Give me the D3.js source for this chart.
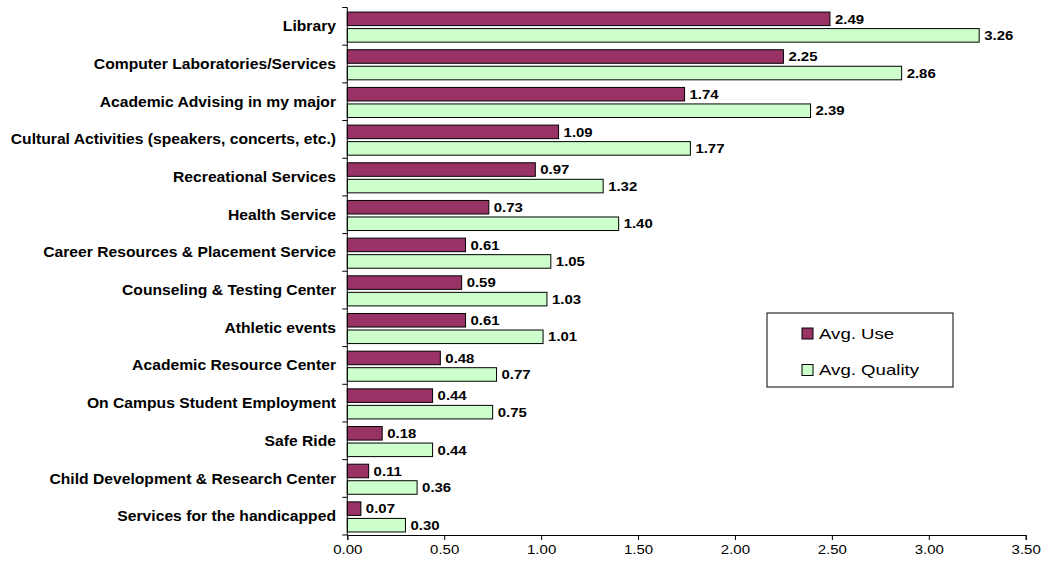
<!DOCTYPE html>
<html>
<head>
<meta charset="utf-8">
<script src="https://cdn.jsdelivr.net/npm/d3@7"></script>
<style>
  body { margin: 0; background: #fff; }
  text { font-family: Arial, "Liberation Sans", sans-serif; fill: #000; }
</style>
</head>
<body>
<div id="viz"></div>
<script>
// data, top to bottom
var categories = [
  "Library",
  "Computer Laboratories/Services",
  "Academic Advising in my major",
  "Cultural Activities (speakers, concerts, etc.)",
  "Recreational Services",
  "Health Service",
  "Career Resources & Placement Service",
  "Counseling & Testing Center",
  "Athletic events",
  "Academic Resource Center",
  "On Campus Student Employment",
  "Safe Ride",
  "Child Development & Research Center",
  "Services for the handicapped"
];
var avgUse =     [2.49, 2.25, 1.74, 1.09, 0.97, 0.73, 0.61, 0.59, 0.61, 0.48, 0.44, 0.18, 0.11, 0.07];
var avgQuality = [3.26, 2.86, 2.39, 1.77, 1.32, 1.40, 1.05, 1.03, 1.01, 0.77, 0.75, 0.44, 0.36, 0.30];
var seriesNames = ["Avg. Use", "Avg. Quality"];
var seriesColors = ["#993366", "#ccffcc"];
var tickValues = [0, 0.5, 1, 1.5, 2, 2.5, 3, 3.5];

var width = 1047, height = 562;
var plotLeft = 347.3, plotRight = 1025.7, plotTop = 7.5, plotBottom = 535;

var svg = d3.select("#viz").append("svg")
    .attr("width", width)
    .attr("height", height);

var x = d3.scaleLinear().domain([0, 3.5]).range([plotLeft, plotRight]);
var y = d3.scaleBand().domain(categories).range([plotTop, plotBottom]).padding(0);
var ySub = d3.scaleBand().domain(seriesNames).range([0, y.bandwidth()])
    .paddingInner(0.18).paddingOuter(0.23).align(0.6);

// rows: one per category, two bars each
var rows = categories.map(function(c, i){
  return {cat: c, vals: [{s: seriesNames[0], v: avgUse[i]}, {s: seriesNames[1], v: avgQuality[i]}]};
});

var g = svg.selectAll(".row").data(rows).enter().append("g")
    .attr("class", "row")
    .attr("transform", function(d){ return "translate(0," + y(d.cat) + ")"; });

g.selectAll("rect").data(function(d){ return d.vals; }).enter().append("rect")
    .attr("x", x(0))
    .attr("y", function(d){ return ySub(d.s); })
    .attr("width", function(d){ return x(d.v) - x(0); })
    .attr("height", ySub.bandwidth())
    .attr("fill", function(d, i){ return seriesColors[i]; })
    .attr("stroke", "#000")
    .attr("stroke-width", 1);

// value labels
g.selectAll(".val").data(function(d){ return d.vals; }).enter().append("text")
    .attr("class", "val")
    .attr("transform", function(d){
      return "translate(" + (x(d.v) + 5) + "," + (ySub(d.s) + ySub.bandwidth() / 2) + ") scale(1.15,1)";
    })
    .attr("dy", "0.36em")
    .style("font-size", "13px")
    .style("font-weight", "bold")
    .text(function(d){ return d3.format(".2f")(d.v); });

// category labels
g.append("text")
    .attr("transform", "translate(336," + (y.bandwidth() / 2) + ") scale(1.12,1)")
    .attr("text-anchor", "end")
    .attr("dy", "0.36em")
    .style("font-size", "14px")
    .style("font-weight", "bold")
    .text(function(d){ return d.cat; });

// y axis line + ticks at band edges
svg.append("line")
    .attr("x1", plotLeft).attr("x2", plotLeft)
    .attr("y1", plotTop).attr("y2", plotBottom)
    .attr("stroke", "#000");
var edges = categories.map(function(c){ return y(c); }).concat([plotBottom]);
svg.selectAll(".ytick").data(edges).enter().append("line")
    .attr("x1", plotLeft - 5).attr("x2", plotLeft)
    .attr("y1", function(d){ return d; }).attr("y2", function(d){ return d; })
    .attr("stroke", "#000");

// x axis
var xAxis = svg.append("g")
    .attr("transform", "translate(0," + plotBottom + ")")
    .call(d3.axisBottom(x).tickValues(tickValues).tickSizeOuter(0).tickSize(5).tickFormat(d3.format(".2f")));
xAxis.select(".domain").attr("stroke", "#000");
xAxis.selectAll(".tick line").attr("stroke", "#000");
xAxis.selectAll(".tick text").remove();
xAxis.selectAll(".tick").append("text")
    .attr("transform", "translate(0,15) scale(1.25,1)")
    .attr("text-anchor", "middle")
    .attr("dy", "0.36em")
    .style("font-size", "12px")
    .text(function(d){ return d3.format(".2f")(d); });

// legend
var legend = svg.append("g");
legend.append("rect")
    .attr("x", 767).attr("y", 313)
    .attr("width", 186).attr("height", 74)
    .attr("fill", "#fff")
    .attr("stroke", "#000");
var li = legend.selectAll(".li").data(seriesNames).enter().append("g")
    .attr("transform", function(d, i){ return "translate(802," + (328 + i * 36.5) + ")"; });
li.append("rect")
    .attr("width", 11).attr("height", 11)
    .attr("fill", function(d, i){ return seriesColors[i]; })
    .attr("stroke", "#000");
li.append("text")
    .attr("transform", "translate(17,5.5) scale(1.33,1)")
    .attr("dy", "0.36em")
    .style("font-size", "14px")
    .text(function(d){ return d; });
</script>
</body>
</html>
